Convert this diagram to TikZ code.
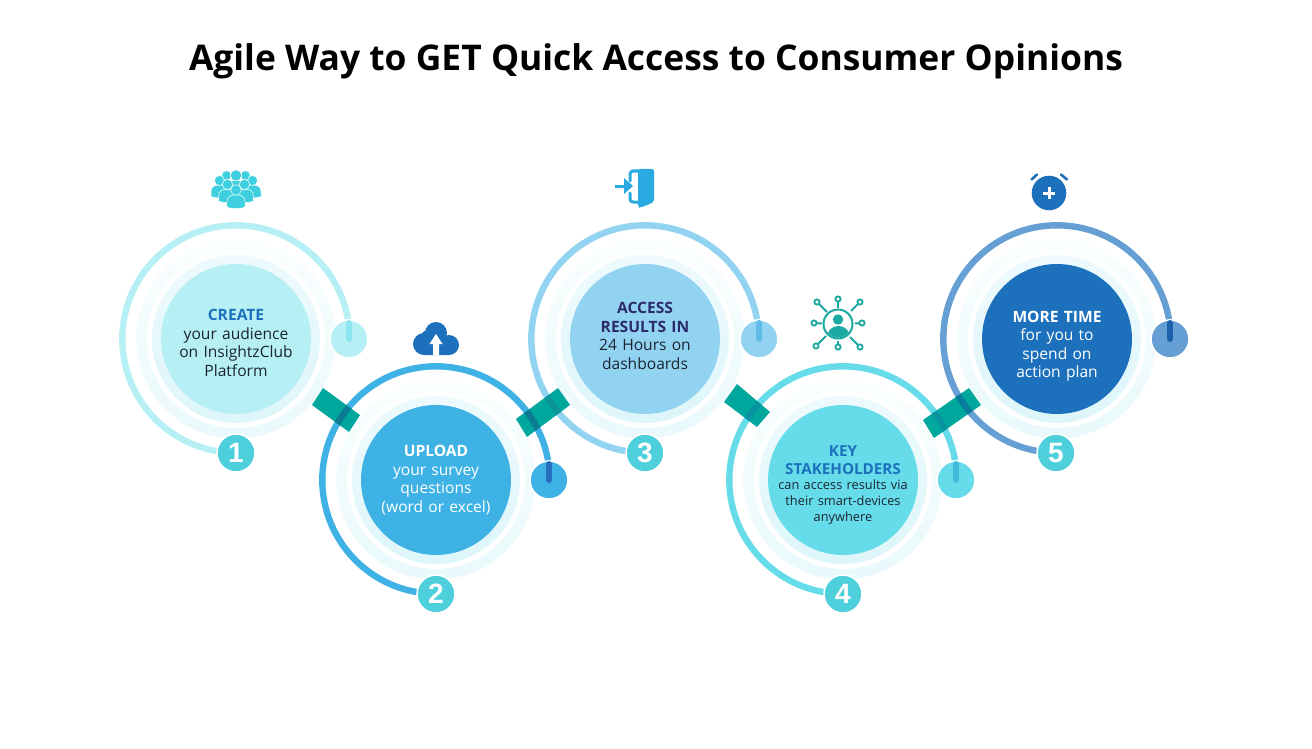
\documentclass[tikz,border=0pt]{standalone}
\usepackage{fontspec}
\setmainfont{Open Sans}
\newfontfamily\numfont{Liberation Sans}
\definecolor{teal}{HTML}{00A79D}
\definecolor{numc}{HTML}{4DD0DC}
\definecolor{cA}{HTML}{B6F0F5}
\definecolor{cB}{HTML}{3FB2E5}
\definecolor{cC}{HTML}{92D3F2}
\definecolor{cD}{HTML}{66DCEB}
\definecolor{cE}{HTML}{1D71BC}
\definecolor{arcE}{HTML}{659FD3}
\definecolor{stA}{HTML}{8CE5EE}
\definecolor{stB}{HTML}{2A6FBF}
\definecolor{stC}{HTML}{5FBCE8}
\definecolor{stD}{HTML}{3FBBDE}
\definecolor{stE}{HTML}{1D62AC}
\definecolor{ink}{HTML}{1A2530}
\definecolor{navy}{HTML}{2B2A6B}
\definecolor{iconc}{HTML}{3FD0E0}
\definecolor{doorc}{HTML}{29ABE2}
\definecolor{netc}{HTML}{1BA8A0}
\definecolor{darkA}{RGB}{8,124,146}
\definecolor{darkB}{RGB}{10,150,150}
\definecolor{darkC}{RGB}{8,148,160}
\definecolor{darkD}{RGB}{8,124,156}
\definecolor{outT}{HTML}{FAFEFE}
\definecolor{outB}{HTML}{E9F9FC}
\definecolor{inT}{HTML}{EEFAFD}
\definecolor{inB}{HTML}{DDF6FA}
\newcommand{\arcpath}[2]{(#1,#2+113.7) arc[start angle=270,delta angle=-260,radius=113.7pt]}
\newcommand{\ringset}[4]{% x, y, fill colour, arc colour
  \shade[top color=outT,bottom color=outB] (#1,#2) circle[radius=99.5pt];
  \fill[white] (#1,#2) circle[radius=89pt];
  \shade[top color=inT,bottom color=inB] (#1,#2) circle[radius=84pt];
  \draw[#4,line width=6.4pt] \arcpath{#1}{#2};
  \fill[#3] (#1,#2) circle[radius=75pt];
}
\newcommand{\person}[3]{% x, y of head, head radius
  \filldraw[iconc,draw=white,line width=.5pt]
    (#1-1.7*#3,#2+3.2*#3) -- (#1-1.7*#3,#2+2.2*#3)
    .. controls (#1-1.7*#3,#2+1.2*#3) and (#1-1*#3,#2+.9*#3) .. (#1,#2+.9*#3)
    .. controls (#1+1*#3,#2+.9*#3) and (#1+1.7*#3,#2+1.2*#3) .. (#1+1.7*#3,#2+2.2*#3)
    -- (#1+1.7*#3,#2+3.2*#3)
    .. controls (#1+1*#3,#2+3.6*#3) and (#1-1*#3,#2+3.6*#3) .. cycle;
  \filldraw[iconc,draw=white,line width=.5pt] (#1,#2) circle[radius=#3*1pt];
}
\tikzset{
  x=1pt,y=-1pt,
  maincirc/.style={inner sep=0pt,align=center,text width=146pt},
  numcirc/.style={circle,fill=numc,draw=white,line width=1.5pt,minimum size=38pt,inner sep=0pt,text=white,font=\numfont\bfseries\fontsize{28}{28}\selectfont},
  smallcirc/.style={circle,draw=white,line width=1.5pt,minimum size=38pt,inner sep=0pt},
  stemline/.style={line width=6pt,line cap=round},
  body/.style={font=\fontsize{15.6}{18.5}\selectfont},
  bandc/.style={fill=teal},
}
\newcommand{\bandA}{(323,388)--(360,415)--(349,432)--(312,405)--cycle}
\newcommand{\bandB}{(558,388)--(570,405)--(527,437)--(516,419)--cycle}
\newcommand{\bandC}{(737,384)--(770,412)--(757,427)--(724,402)--cycle}
\newcommand{\bandD}{(969,388)--(981,405)--(934,438)--(923,420)--cycle}
\begin{document}
\begin{tikzpicture}
\useasboundingbox (0,0) rectangle (1312,749);
\fill[white] (0,0) rectangle (1312,749);
\node[font=\bfseries\fontsize{35.4}{40}\selectfont,text=black] (title) at (656,61) {Agile Way to GET Quick Access to Consumer Opinions};
% rings and arcs
\ringset{236}{339}{cA}{cA}
\ringset{436}{480}{cB}{cB}
\ringset{645}{339}{cC}{cC}
\ringset{843}{480}{cD}{cD}
\ringset{1057}{339}{cE}{arcE}
% bands
\fill[bandc] \bandA; \fill[bandc] \bandB; \fill[bandc] \bandC; \fill[bandc] \bandD;
\begin{scope}\clip \bandA; \draw[darkA,line width=6.4pt] \arcpath{436}{480};\end{scope}
\begin{scope}\clip \bandB; \draw[darkA,line width=6.4pt] \arcpath{436}{480};
  \draw[darkB,line width=6.4pt] \arcpath{645}{339};\end{scope}
\begin{scope}\clip \bandC; \draw[darkC,line width=6.4pt] \arcpath{843}{480};\end{scope}
\begin{scope}\clip \bandD; \draw[darkC,line width=6.4pt] \arcpath{843}{480};
  \draw[darkD,line width=6.4pt] \arcpath{1057}{339};\end{scope}
% circle texts
\node[maincirc,body,text=ink] (c1) at (236,343) {\textbf{\textcolor{cE}{CREATE}}\\your audience\\on InsightzClub\\Platform};
\node[maincirc,body,text=white] (c2) at (436,480) {\textbf{UPLOAD}\\your survey\\questions\\(word or excel)};
\node[maincirc,body,text=ink] (c3) at (645,336) {\textbf{\textcolor{navy}{ACCESS}}\\\textbf{\textcolor{navy}{RESULTS IN}}\\24 Hours on\\dashboards};
\node[maincirc,text=ink,font=\fontsize{12.8}{16}\selectfont] (c4) at (843,485) {{\fontsize{15.2}{18}\selectfont\textbf{\textcolor{cE}{KEY}}\\\textbf{\textcolor{cE}{STAKEHOLDERS}}\\[-1pt]}can access results via\\their smart-devices\\anywhere};
\node[maincirc,body,text=white] (c5) at (1057,346) {\textbf{MORE TIME}\\for you to\\spend on\\action plan};
% number circles
\node[numcirc] (n1) at (236,453) {1};
\node[numcirc] (n2) at (436,594) {2};
\node[numcirc] (n3) at (645,453) {3};
\node[numcirc] (n4) at (843,594) {4};
\node[numcirc] (n5) at (1056,453) {5};
% small circles with stems
\node[smallcirc,fill=cA] (s1) at (349,339) {};
\node[smallcirc,fill=cB] (s2) at (549,480) {};
\node[smallcirc,fill=cC] (s3) at (759,339) {};
\node[smallcirc,fill=cD] (s4) at (956,480) {};
\node[smallcirc,fill=arcE] (s5) at (1170,339) {};
\draw[stemline,stA] (349,323) -- (349,339);
\draw[stemline,stB] (549,464) -- (549,480);
\draw[stemline,stC] (759,323) -- (759,339);
\draw[stemline,stD] (956,464) -- (956,480);
\draw[stemline,stE] (1170,323) -- (1170,339);
% people icon
\person{226.5}{175.5}{4.8}\person{245.5}{175.5}{4.8}
\person{236}{175.5}{5.6}
\person{219.5}{180.5}{5}\person{252.5}{180.5}{5}
\person{227.5}{184.5}{5.2}\person{244.5}{184.5}{5.2}
\person{236}{190}{5.3}
% cloud icon
\fill[cE] (436,333) circle[radius=11pt] (424,344) circle[radius=11pt] (449,345) circle[radius=10pt]
  (428,337) circle[radius=7pt] (424,340) rectangle (449,355);
\fill[white] (433,355) -- (433,344) -- (429.5,344) -- (436,334) -- (442.5,344) -- (439,344) -- (439,355) -- cycle;
% door icon
\draw[doorc,line width=3pt,line cap=round,rounded corners=3pt] (640,171) -- (630,171) -- (630,181);
\draw[doorc,line width=3pt,line cap=round,rounded corners=3pt] (630,193) -- (630,202) -- (640,202);
\fill[doorc,rounded corners=2pt] (638,169) -- (654,169) -- (654,202) -- (640,208) -- (638,207) -- cycle;
\draw[doorc,line width=3pt] (615,186) -- (626,186);
\fill[doorc] (624,178) -- (633,186) -- (624,194) -- cycle;
% network icon
\begin{scope}[netc]
\foreach \sx/\sy/\ex/\ey in {838/299/838/308,860/302/851/311,862/323/855/323.5,860/347/850/337,838/347/838/341,816/346/826/336,814/323/822/323.5,817/302/827/312}{
  \draw[line width=2pt] (\sx,\sy) -- (\ex,\ey);
  \filldraw[fill=white,draw=netc,line width=1.8pt] (\sx,\sy) circle[radius=2.6pt];
}
\draw[line width=2pt] (838,324) circle[radius=14.5pt];
\fill (838,319.5) circle[radius=5.2pt];
\begin{scope}\clip (838,324) circle[radius=13.5pt];
\fill (826.5,338) .. controls (826.5,322) and (849.5,322) .. (849.5,338) -- cycle;
\end{scope}
\end{scope}
% alarm icon
\fill[cE] (1049,193) circle[radius=17.3pt];
\draw[white,line width=3pt] (1043,193) -- (1055,193) (1049,187) -- (1049,199);
\draw[cE,line width=2.6pt,line cap=round] (1031.5,179.5) -- (1037,174.5) (1061,174.5) -- (1067,179.5);
\end{tikzpicture}
\end{document}
